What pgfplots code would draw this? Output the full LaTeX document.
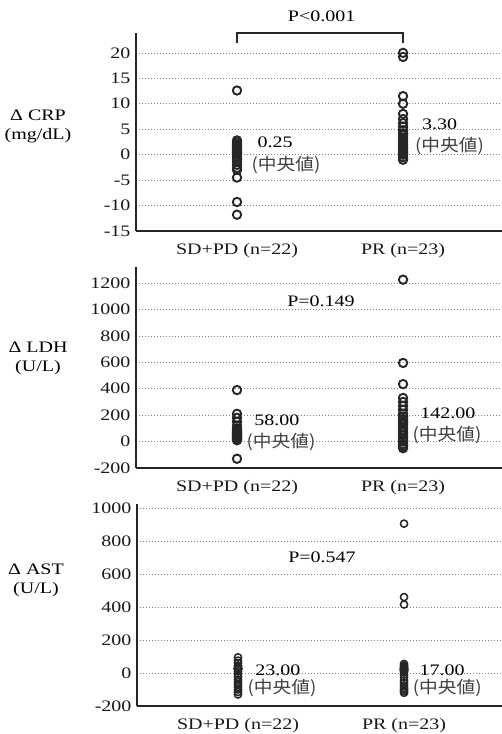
\documentclass[border=0pt]{standalone}
\usepackage{fontspec}
\setmainfont{Liberation Serif}[FakeStretch=1.25]
\newfontfamily\cjk{Noto Sans CJK JP}[FakeStretch=1.1]
\usepackage{pgfplots}
\pgfplotsset{compat=1.18}

\newcommand\fs{\fontsize{16bp}{19bp}\selectfont}
\newcommand\cj{\cjk\fontsize{17bp}{19bp}\selectfont\color{black!75}(中央値)}

\pgfplotsset{
  panel/.style={
    scale only axis, width=366bp,
    xmin=0.3916, xmax=2.596,
    xtick={1,2}, xticklabels={SD+PD (n=22), PR (n=23)},
    axis lines*=left,
    axis line style={line width=1.5bp, black!85},
    major tick length=0,
    ymajorgrids,
    grid style={gray, line width=0.7bp, dash pattern=on 0.8bp off 2.2bp},
    tick label style={font=\fs, black!90},
    /pgf/number format/assume math mode=true,
    /pgf/number format/1000 sep={},
    yticklabel style={xshift=-2bp},
    xticklabel style={yshift=-9bp},
    clip=false,
  },
  dots/.style={only marks, mark=o, mark size=4.2bp, black!85,
    mark options={line width=1.9bp}},
}

\begin{document}
\begin{tikzpicture}
\useasboundingbox (0,0) rectangle (502bp,-734bp);

% CRP
\begin{axis}[panel, at={(136bp,-231bp)}, anchor=south west, height=198bp,
  ymin=-15, ymax=23.9, ytick={-15,-10,...,20}]
\addplot[dots] coordinates {
  (1,12.6) (1,2.8) (1,2.4) (1,2.0) (1,1.7) (1,1.4) (1,1.1) (1,0.8) (1,0.6)
  (1,0.4) (1,0.3) (1,0.2) (1,0.0) (1,-0.4) (1,-0.9) (1,-1.4) (1,-2.0)
  (1,-2.6) (1,-3.0) (1,-4.5) (1,-9.3) (1,-11.8)
};
\addplot[dots] coordinates {
  (2,20.0) (2,19.2) (2,11.5) (2,10.0) (2,8.0) (2,7.0) (2,6.2) (2,5.5)
  (2,4.8) (2,4.2) (2,3.8) (2,3.3) (2,3.0) (2,2.5) (2,2.0) (2,1.5) (2,1.2)
  (2,0.8) (2,0.5) (2,0.2) (2,0.0) (2,-0.5) (2,-1.0)
};
\draw[line width=2.4bp, black!85] (axis cs:1,22.0) -- (axis cs:1,23.9)
  -- (axis cs:2,23.9) -- (axis cs:2,22.0);
\node[font=\fs] at (axis cs:1.51,27.1) {P<0.001};
\node[font=\fs] at (axis cs:1.23,2.36) {0.25};
\node at (axis cs:1.295,-1.97) {\cj};
\node[font=\fs] at (axis cs:2.22,5.9) {3.30};
\node at (axis cs:2.28,1.77) {\cj};
\end{axis}

% LDH
\begin{axis}[panel, at={(136bp,-468bp)}, anchor=south west, height=201bp,
  ymin=-200, ymax=1321, ytick={-200,0,...,1200}]
\addplot[dots] coordinates {
  (1,390) (1,210) (1,180) (1,150) (1,120) (1,100) (1,90) (1,80) (1,70)
  (1,65) (1,60) (1,56) (1,50) (1,45) (1,40) (1,35) (1,30) (1,25) (1,20)
  (1,15) (1,10) (1,-130)
};
\addplot[dots] coordinates {
  (2,1225) (2,595) (2,435) (2,330) (2,300) (2,270) (2,240) (2,210) (2,190)
  (2,170) (2,155) (2,142) (2,130) (2,110) (2,90) (2,70) (2,50) (2,30)
  (2,10) (2,0) (2,-20) (2,-35) (2,-50)
};
\node[font=\fs] at (axis cs:1.506,1058) {P=0.149};
\node[font=\fs] at (axis cs:1.24,164) {58.00};
\node at (axis cs:1.265,0) {\cj};
\node[font=\fs] at (axis cs:2.27,217) {142.00};
\node at (axis cs:2.265,50) {\cj};
\end{axis}

% AST
\begin{axis}[panel, at={(137bp,-706bp)}, anchor=south west, height=202bp,
  ymin=-200, ymax=1024, ytick={-200,0,...,1000}]
\addplot[dots, mark size=3.6bp, mark options={line width=1.5bp}] coordinates {
  (1,95) (1,75) (1,60) (1,45) (1,35) (1,30) (1,28) (1,26) (1,25) (1,24)
  (1,23.5) (1,22.5) (1,10) (1,-10) (1,-25) (1,-40) (1,-55) (1,-70)
  (1,-85) (1,-100) (1,-115) (1,-130)
};
\addplot[dots, mark size=3.6bp, mark options={line width=1.5bp}] coordinates {
  (2,905) (2,460) (2,415) (2,55) (2,45) (2,38) (2,32) (2,28) (2,24) (2,21)
  (2,19) (2,17) (2,12) (2,5) (2,-10) (2,-25) (2,-45) (2,-60) (2,-75)
  (2,-90) (2,-100) (2,-110) (2,-120)
};
\node[font=\fs] at (axis cs:1.506,700) {P=0.547};
\node[font=\fs] at (axis cs:1.24,16) {23.00};
\node at (axis cs:1.265,-93) {\cj};
\node[font=\fs] at (axis cs:2.23,16) {17.00};
\node at (axis cs:2.26,-93) {\cj};
\end{axis}

\node[font=\fs, align=center] at (38bp,-126bp) {Δ CRP\\(mg/dL)};
\node[font=\fs, align=center] at (38bp,-358bp) {Δ LDH\\(U/L)};
\node[font=\fs, align=center] at (36bp,-580bp) {Δ AST\\(U/L)};
\end{tikzpicture}
\end{document}
